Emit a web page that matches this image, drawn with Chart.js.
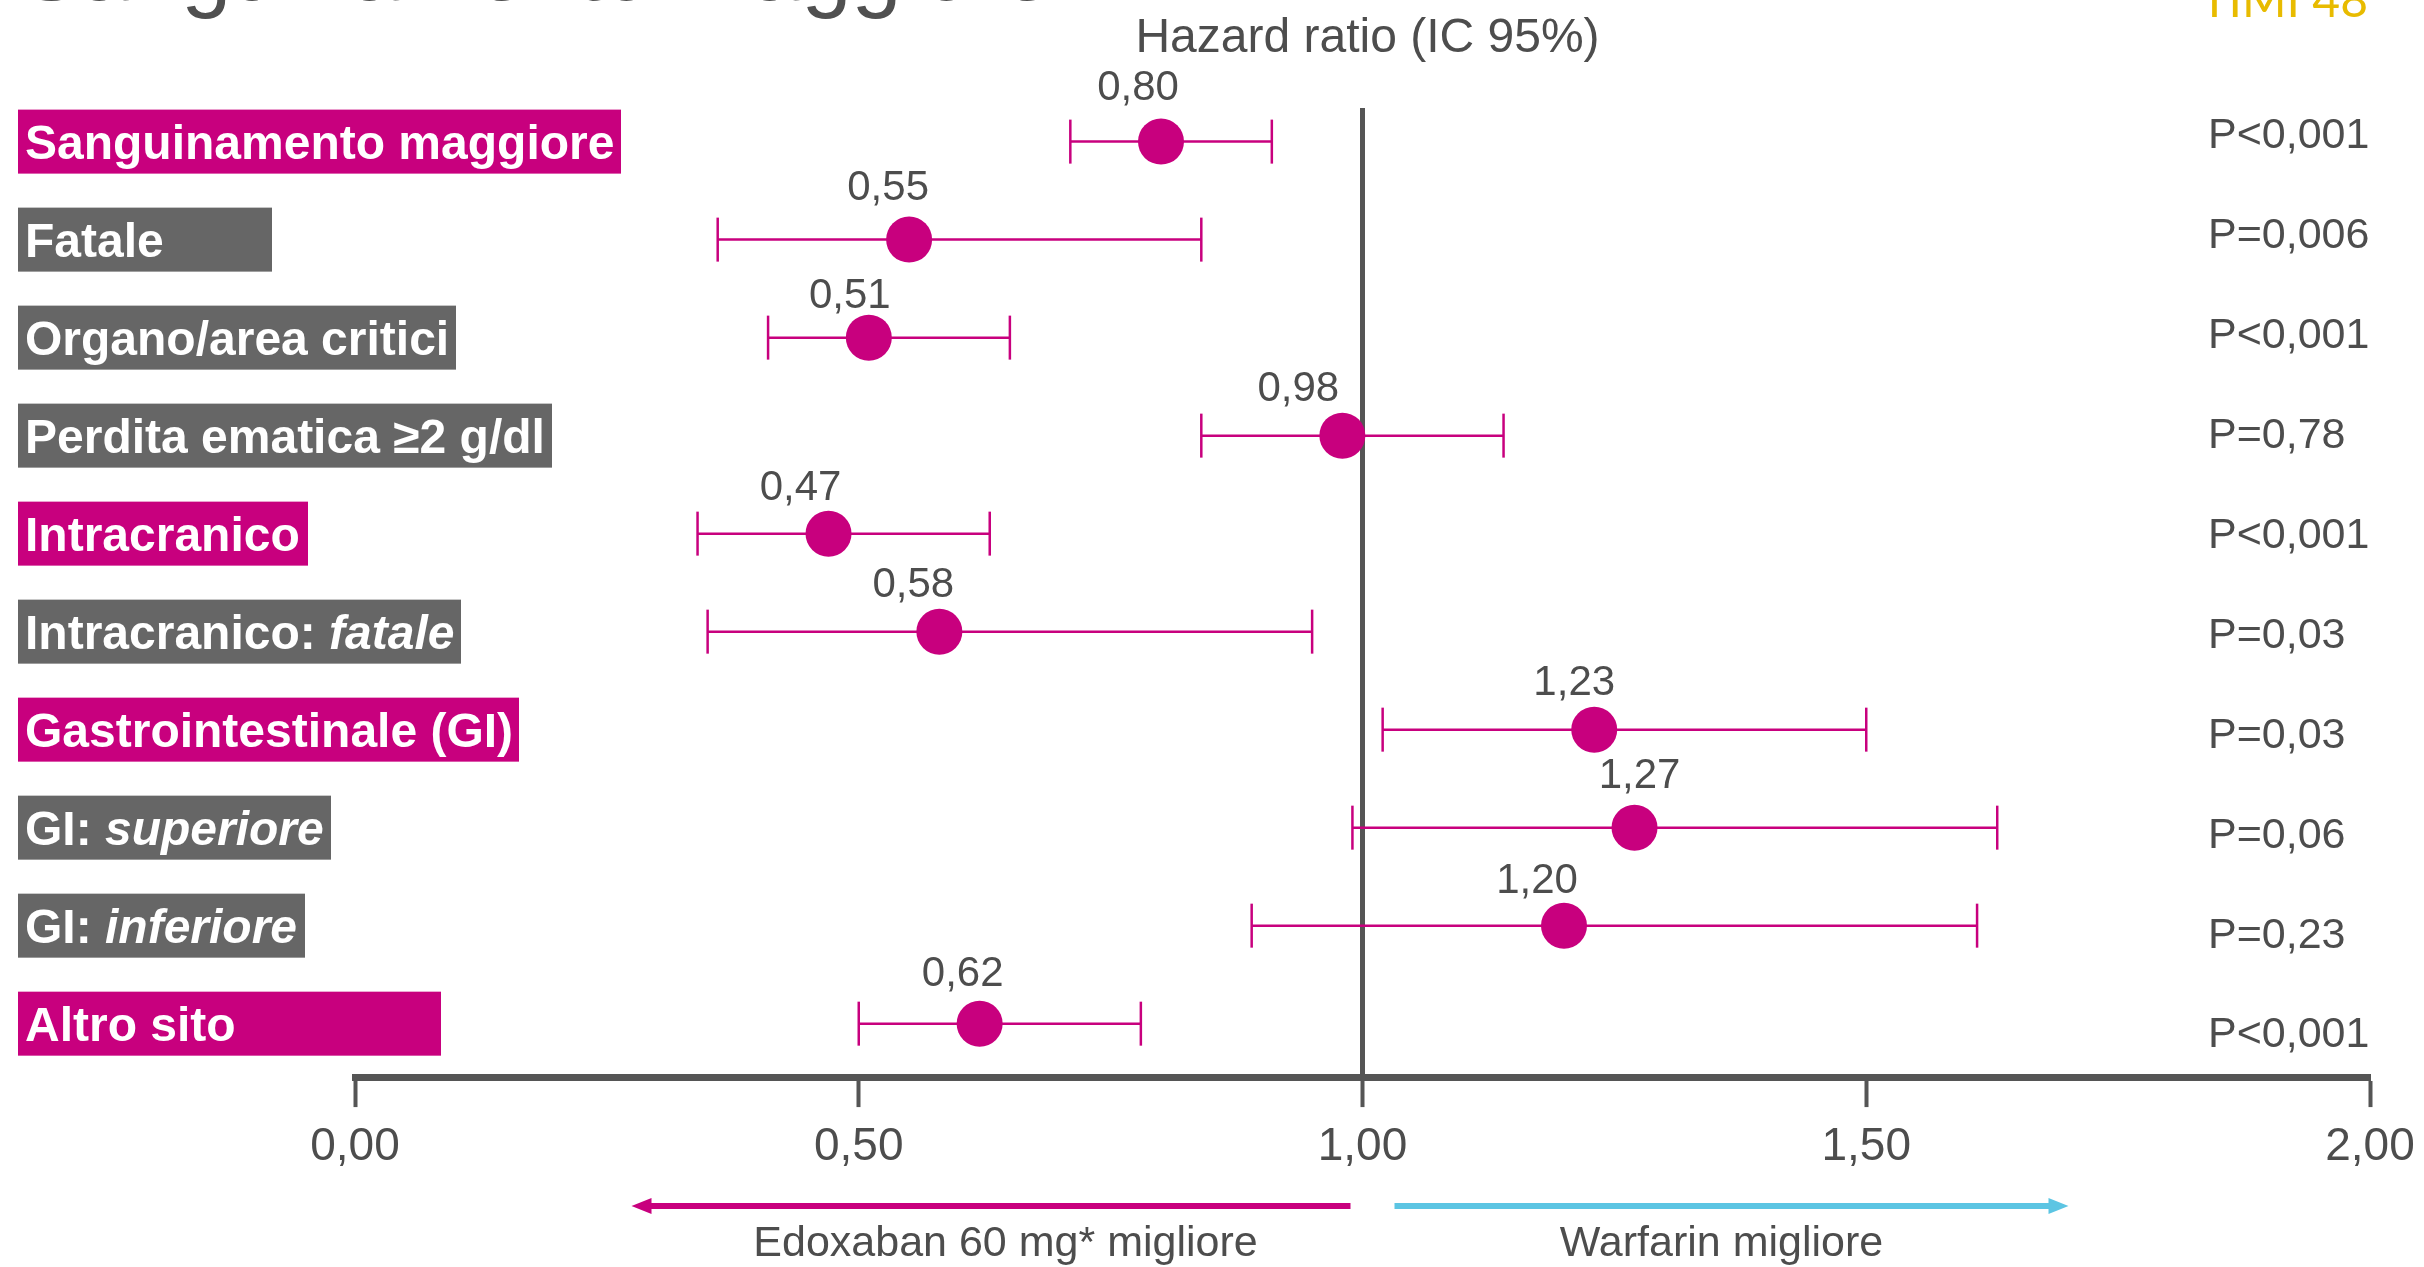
<!DOCTYPE html>
<html>
<head>
<meta charset="utf-8">
<title>Sanguinamento maggiore</title>
<script src="https://cdn.jsdelivr.net/npm/chart.js@4.4.0/dist/chart.umd.min.js"></script>
<style>
  html, body { margin: 0; padding: 0; background: #ffffff; }
  canvas { display: block; }
</style>
</head>
<body>
<canvas id="forest" width="2424" height="1267"></canvas>
<script>
// endpoints, top to bottom (italic tail kept apart so it can be drawn in italics)
const categories = ['Sanguinamento maggiore', 'Fatale', 'Organo/area critici', 'Perdita ematica \u22652 g/dl',
                    'Intracranico', 'Intracranico: ', 'Gastrointestinale (GI)', 'GI: ', 'GI: ', 'Altro sito'];
const categoriesItalic = ['', '', '', '', '', 'fatale', '', 'superiore', 'inferiore', ''];
const mainEndpoint = [true, false, false, false, true, false, true, false, false, true];

// hazard ratio with 95% CI
const hazardRatio = [0.80, 0.55, 0.51, 0.98, 0.47, 0.58, 1.23, 1.27, 1.20, 0.62];
const ciLower = [0.71, 0.36, 0.41, 0.84, 0.34, 0.35, 1.02, 0.99, 0.89, 0.50];
const ciUpper = [0.91, 0.84, 0.65, 1.14, 0.63, 0.95, 1.50, 1.63, 1.61, 0.78];
const pValues = ['P<0,001', 'P=0,006', 'P<0,001', 'P=0,78', 'P<0,001', 'P=0,03', 'P=0,03', 'P=0,06', 'P=0,23', 'P<0,001'];

const xTicks = [0, 0.5, 1, 1.5, 2];

const MAGENTA = '#c8007e';
const GREY_BOX = '#666666';
const INK = '#4d4d4d';
const CYAN = '#5cc5e3';
const FONT = "'Liberation Sans', Arial, sans-serif";

const fmt = v => v.toFixed(2).replace('.', ',');

// right edge of each coloured label box
const labelBoxRight = [621, 272, 456, 552, 308, 461, 519, 331, 305, 441];
// hand placed offset of each value label from its point [dx, dy]
const valueLabelNudge = [[-23, -57], [-21, -55], [-19, -45], [-44, -50], [-28, -49],
                         [-26, -50], [-20, -50], [5, -55], [-27, -48], [-17, -53]];

const forestDecor = {
    id: 'forestDecor',
    beforeDatasetsDraw(chart) {
        const {ctx, chartArea, scales: {x}} = chart;
        const refX = x.getPixelForValue(1);
        ctx.save();
        ctx.strokeStyle = '#555555';
        ctx.lineWidth = 5;
        ctx.beginPath();
        ctx.moveTo(refX, chartArea.top);
        ctx.lineTo(refX, chartArea.bottom);
        ctx.stroke();
        ctx.restore();
    },
    afterDatasetsDraw(chart) {
        const {ctx, chartArea, scales: {x, y}} = chart;
        // header and arrows hang off the no-effect line, a touch to the right
        const midX = x.getPixelForValue(1) + 5;
        ctx.save();

        // title, partly off the top edge
        ctx.fillStyle = '#505050';
        ctx.font = '90px ' + FONT;
        ctx.textAlign = 'left';
        ctx.textBaseline = 'alphabetic';
        ctx.fillText('Sanguinamento maggiore', 21, 0);

        ctx.fillStyle = '#e8bb00';
        ctx.font = "48px Lato, 'Open Sans', sans-serif";
        ctx.textAlign = 'right';
        ctx.fillText('TIMI 48', 2368, 17);

        ctx.fillStyle = INK;
        ctx.font = '48px ' + FONT;
        ctx.textAlign = 'center';
        ctx.fillText('Hazard ratio (IC 95%)', midX, 52);

        // label boxes on the left
        categories.forEach((name, i) => {
            const cy = y.getPixelForValue(i);
            ctx.fillStyle = mainEndpoint[i] ? MAGENTA : GREY_BOX;
            ctx.fillRect(18, cy - 32, labelBoxRight[i] - 18, 64);
            ctx.fillStyle = '#ffffff';
            ctx.textAlign = 'left';
            ctx.font = 'bold 48px ' + FONT;
            ctx.fillText(name, 25, cy + 17);
            if (categoriesItalic[i]) {
                const w = ctx.measureText(name).width;
                ctx.font = 'italic bold 48px ' + FONT;
                ctx.fillText(categoriesItalic[i], 25 + w, cy + 17);
            }
        });

        // value above each point
        ctx.fillStyle = INK;
        ctx.font = '42px ' + FONT;
        ctx.textAlign = 'center';
        hazardRatio.forEach((v, i) => {
            const px = x.getPixelForValue(v);
            const py = y.getPixelForValue(i);
            const [dx, dy] = valueLabelNudge[i];
            ctx.fillText(fmt(v), px + dx, py + dy + 15);
        });

        // p values column
        ctx.font = '43px ' + FONT;
        ctx.textAlign = 'left';
        pValues.forEach((p, i) => {
            const py = y.getPixelForValue((i - 4.5) * 1.02 + 4.5);
            ctx.fillText(p, chartArea.right - 162, py + 15);
        });

        // direction arrows under the axis
        const arrowY = 1206;
        const arrow = (from, to, color) => {
            const dir = Math.sign(to - from);
            ctx.strokeStyle = color;
            ctx.fillStyle = color;
            ctx.lineWidth = 6;
            ctx.beginPath();
            ctx.moveTo(from, arrowY);
            ctx.lineTo(to - dir * 14, arrowY);
            ctx.stroke();
            ctx.beginPath();
            ctx.moveTo(to, arrowY);
            ctx.lineTo(to - dir * 20, arrowY - 8);
            ctx.lineTo(to - dir * 20, arrowY + 8);
            ctx.closePath();
            ctx.fill();
        };
        arrow(midX - 17, midX - 736, MAGENTA);
        arrow(midX + 27, midX + 701, CYAN);

        ctx.fillStyle = INK;
        ctx.font = '43px ' + FONT;
        ctx.textAlign = 'center';
        ctx.fillText('Edoxaban 60 mg* migliore', midX - 362, 1256);
        ctx.fillText('Warfarin migliore', midX + 354, 1256);

        ctx.restore();
    }
};

// CI whiskers: one short line per endpoint, vertical caps at both ends
const whiskers = categories.map((c, i) => ({
    data: [{x: ciLower[i], y: i}, {x: ciUpper[i], y: i}],
    showLine: true,
    borderColor: MAGENTA,
    borderWidth: 2.5,
    pointStyle: 'line',
    pointRotation: 90,
    pointRadius: 22,
    pointHoverRadius: 22,
    pointBorderColor: MAGENTA,
    pointBorderWidth: 2.5
}));

const points = {
    data: hazardRatio.map((v, i) => ({x: v, y: i})),
    showLine: false,
    pointRadius: 23,
    pointHoverRadius: 23,
    pointBackgroundColor: MAGENTA,
    pointBorderWidth: 0
};

new Chart(document.getElementById('forest').getContext('2d'), {
    type: 'scatter',
    data: {
        datasets: [points].concat(whiskers)
    },
    options: {
        responsive: false,
        devicePixelRatio: 1,
        animation: false,
        layout: {
            padding: {left: 355, right: 54, top: 108, bottom: 80}
        },
        plugins: {
            legend: {display: false},
            tooltip: {enabled: false}
        },
        scales: {
            x: {
                type: 'linear',
                min: 0,
                max: 2,
                afterBuildTicks: s => { s.ticks = xTicks.map(v => ({value: v})); },
                grid: {
                    drawOnChartArea: false,
                    drawTicks: true,
                    tickLength: 30,
                    tickWidth: 4,
                    tickColor: '#555555'
                },
                border: {display: true, color: '#555555', width: 7},
                ticks: {
                    color: INK,
                    padding: 5,
                    maxRotation: 0,
                    autoSkip: false,
                    font: {family: FONT, size: 46, lineHeight: 1.52},
                    callback: v => fmt(v)
                }
            },
            y: {
                type: 'linear',
                reverse: true,
                min: -0.343,
                max: 9.545,
                display: false
            }
        }
    },
    plugins: [forestDecor]
});
</script>
</body>
</html>
